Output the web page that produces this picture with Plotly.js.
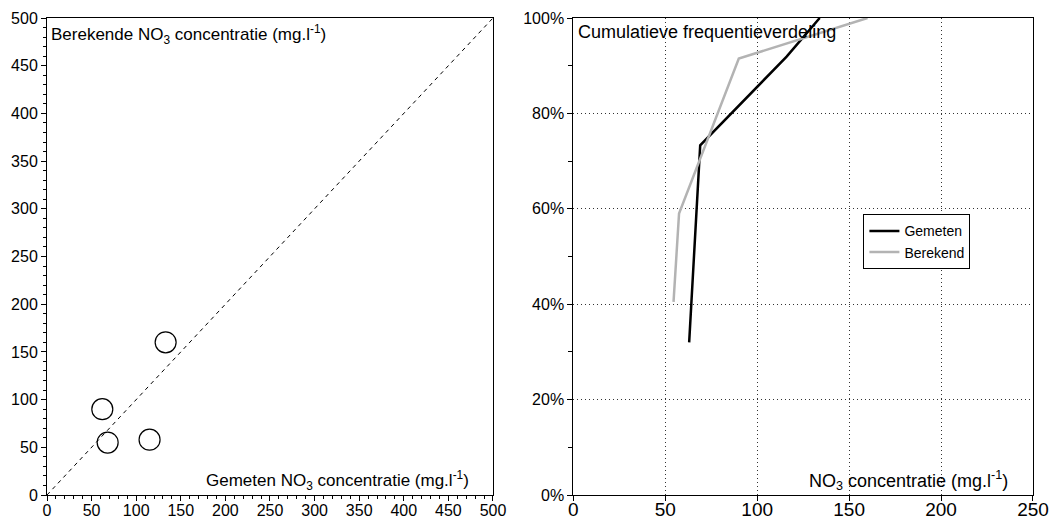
<!DOCTYPE html>
<html>
<head>
<meta charset="utf-8">
<script src="https://cdn.plot.ly/plotly-3.0.1.min.js"></script>
<style>html,body{margin:0;padding:0;background:#fff;}#chart{width:1050px;height:517px;}</style>
</head>
<body>
<div id="chart"></div>
<script>
// Left panel: measured vs calculated
const gemeten = [62, 68, 115, 133];
const berekend = [90, 55, 58, 160];
const diagX = [0, 500];
const diagY = [0, 500];

// Right panel: cumulative frequency distribution
const cumGemetenX = [63, 69, 116, 134];
const cumGemetenY = [0.32, 0.733, 0.919, 1.0];
const cumBerekendX = [54.5, 57.5, 90, 160];
const cumBerekendY = [0.405, 0.59, 0.915, 1.0];

const FONT = 'Liberation Sans, Arial, sans-serif';

const traces = [
  {x: diagX, y: diagY, mode: 'lines', xaxis: 'x', yaxis: 'y', showlegend: false,
   line: {color: '#000', width: 1, dash: '4px,4px'}, hoverinfo: 'skip'},
  {x: gemeten, y: berekend, mode: 'markers', xaxis: 'x', yaxis: 'y', showlegend: false,
   marker: {symbol: 'circle-open', size: 21, color: '#000', line: {width: 1.2, color: '#000'}}},
  {x: cumGemetenX, y: cumGemetenY, mode: 'lines', name: 'Gemeten', xaxis: 'x2', yaxis: 'y2',
   line: {color: '#000', width: 2.5}},
  {x: cumBerekendX, y: cumBerekendY, mode: 'lines', name: 'Berekend', xaxis: 'x2', yaxis: 'y2',
   line: {color: '#b3b3b3', width: 2.5}}
];

const axBase = {showline: true, linecolor: '#000', linewidth: 1, mirror: true,
  ticks: 'outside', ticklen: 5, tickcolor: '#000', zeroline: false,
  tickfont: {family: FONT, size: 16, color: '#000'}};

const layout = {
  width: 1050, height: 517,
  margin: {l: 47, r: 17, t: 18, b: 22},
  paper_bgcolor: '#fff', plot_bgcolor: '#fff',
  font: {family: FONT, size: 16, color: '#000'},
  xaxis: Object.assign({}, axBase, {domain: [0, 0.4523], range: [0, 500], dtick: 50, showgrid: false,
    ticklabelstandoff: -4,
    minor: {dtick: 10, ticks: 'outside', ticklen: 3, tickcolor: '#000', showgrid: false}}),
  yaxis: Object.assign({}, axBase, {range: [0, 500], dtick: 50, showgrid: false,
    minor: {dtick: 10, ticks: 'outside', ticklen: 3, tickcolor: '#000', showgrid: false}}),
  xaxis2: Object.assign({}, axBase, {anchor: 'y2', domain: [0.5338, 1], range: [0, 250], dtick: 50,
    ticklabelstandoff: -8,
    tickfont: {family: FONT, size: 19, color: '#000'},
    showgrid: true, gridcolor: '#333', gridwidth: 1, griddash: '1px,3px'}),
  yaxis2: Object.assign({}, axBase, {anchor: 'x2', range: [0, 1], dtick: 0.2, tickformat: '.0%',
    showgrid: true, gridcolor: '#333', gridwidth: 1, griddash: '1px,3px',
    minor: {dtick: 0.1, ticks: 'outside', ticklen: 4, tickcolor: '#000', showgrid: false}}),
  showlegend: true,
  legend: {x: 0.828, y: 0.5885, xanchor: 'left', yanchor: 'top', bgcolor: '#fff',
    bordercolor: '#000', borderwidth: 1, font: {family: FONT, size: 14, color: '#000'},
    tracegroupgap: 0, itemwidth: 30},
  annotations: [
    {xref: 'x domain', yref: 'y domain', x: 0.005, y: 0.995, xanchor: 'left', yanchor: 'top', showarrow: false,
     text: 'Berekende NO<sub>3</sub> concentratie (mg.l<sup>-1</sup>)', font: {family: FONT, size: 17, color: '#000'}},
    {xref: 'x domain', yref: 'y domain', x: 0.95, y: 0.0, xanchor: 'right', yanchor: 'bottom', showarrow: false,
     text: 'Gemeten NO<sub>3</sub> concentratie (mg.l<sup>-1</sup>)', font: {family: FONT, size: 17, color: '#000'}},
    {xref: 'x2 domain', yref: 'y2 domain', x: 0.005, y: 0.995, xanchor: 'left', yanchor: 'top', showarrow: false,
     text: 'Cumulatieve frequentieverdeling', font: {family: FONT, size: 18, color: '#000'}},
    {xref: 'x2 domain', yref: 'y2 domain', x: 0.95, y: 0.0, xanchor: 'right', yanchor: 'bottom', showarrow: false,
     text: 'NO<sub>3</sub> concentratie (mg.l<sup>-1</sup>)', font: {family: FONT, size: 18, color: '#000'}}
  ]
};

Plotly.newPlot('chart', traces, layout, {displayModeBar: false, staticPlot: true});
</script>
</body>
</html>
